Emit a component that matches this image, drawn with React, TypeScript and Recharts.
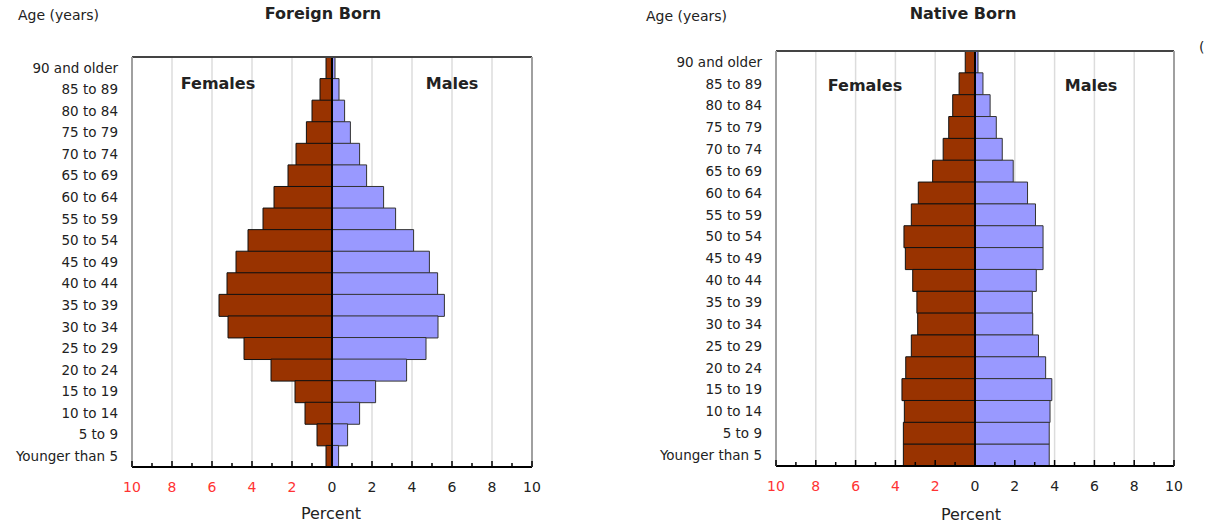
import { Bar, BarChart, CartesianGrid, ReferenceLine, XAxis, YAxis } from 'recharts'

const ages = [
  '90 and older', '85 to 89', '80 to 84', '75 to 79', '70 to 74', '65 to 69', '60 to 64',
  '55 to 59', '50 to 54', '45 to 49', '40 to 44', '35 to 39', '30 to 34', '25 to 29',
  '20 to 24', '15 to 19', '10 to 14', '5 to 9', 'Younger than 5',
]

// percent of population, oldest group first
const foreignFemales = [0.3, 0.6, 1.0, 1.28, 1.8, 2.2, 2.9, 3.45, 4.2, 4.8, 5.25, 5.65, 5.2, 4.4, 3.05, 1.85, 1.35, 0.75, 0.3]
const foreignMales = [0.15, 0.35, 0.63, 0.92, 1.38, 1.73, 2.58, 3.18, 4.08, 4.87, 5.28, 5.62, 5.3, 4.7, 3.73, 2.18, 1.38, 0.78, 0.33]
const nativeFemales = [0.49, 0.8, 1.12, 1.32, 1.6, 2.13, 2.85, 3.2, 3.57, 3.5, 3.13, 2.92, 2.88, 3.2, 3.48, 3.67, 3.55, 3.6, 3.6]
const nativeMales = [0.15, 0.4, 0.76, 1.07, 1.37, 1.92, 2.64, 3.04, 3.42, 3.42, 3.08, 2.88, 2.9, 3.19, 3.55, 3.86, 3.77, 3.73, 3.73]

const xTicks = [-10, -9, -8, -7, -6, -5, -4, -3, -2, -1, 0, 1, 2, 3, 4, 5, 6, 7, 8, 9, 10]
const gridValues = [-8, -6, -4, -2, 2, 4, 6, 8]

const FONT = '"DejaVu Sans", Verdana, sans-serif'
const FEMALE = '#993300'
const MALE = '#9999ff'
const RED = '#ff3333'

function BottomTick(props: any) {
  const { x, y, payload } = props
  const v = payload.value as number
  const major = v % 2 === 0
  return (
    <g>
      <line x1={x} x2={x} y1={y} y2={y - (major ? 6 : 4)} stroke="#000" strokeWidth={1.5} />
      {major && (
        <text x={x} y={y + 25} textAnchor="middle" fontSize={14} fontFamily={FONT} fill={v < 0 ? RED : '#222'}>
          {Math.abs(v)}
        </text>
      )}
    </g>
  )
}

function TopTick(props: any) {
  const { x, y, payload } = props
  const major = (payload.value as number) % 2 === 0
  return <line x1={x} x2={x} y1={y} y2={y + (major ? 6 : 4)} stroke="#333" strokeWidth={1.5} />
}

type PyramidProps = {
  females: number[]
  males: number[]
  width: number
  margin: { top: number; right: number; bottom: number; left: number }
  labelWidth: number
}

function Pyramid({ females, males, width, margin, labelWidth }: PyramidProps) {
  const data = ages.map((age, i) => ({ age, female: -females[i], male: males[i] }))
  return (
    <BarChart
      width={width}
      height={527}
      data={data}
      layout="vertical"
      stackOffset="sign"
      barCategoryGap={0}
      margin={margin}
    >
      <CartesianGrid horizontal={false} verticalValues={gridValues} stroke="#dcdcdc" strokeWidth={1.5} />
      <XAxis
        type="number"
        domain={[-10, 10]}
        ticks={xTicks}
        interval={0}
        height={40}
        tickSize={0}
        tickMargin={0}
        tick={<BottomTick />}
        axisLine={{ stroke: '#000', strokeWidth: 2 }}
        tickLine={false}
      />
      <XAxis
        xAxisId="top"
        orientation="top"
        type="number"
        domain={[-10, 10]}
        ticks={xTicks}
        interval={0}
        height={1}
        tickSize={0}
        tickMargin={0}
        tick={<TopTick />}
        axisLine={{ stroke: '#444', strokeWidth: 2 }}
        tickLine={false}
      />
      <YAxis
        type="category"
        dataKey="age"
        width={labelWidth}
        tickSize={0}
        tickMargin={14}
        tickLine={false}
        interval={0}
        axisLine={{ stroke: '#a0a0a0', strokeWidth: 2 }}
        tick={{ fontSize: 13.5, fill: '#222', fontFamily: FONT }}
      />
      <YAxis
        yAxisId="right"
        orientation="right"
        type="category"
        dataKey="age"
        width={1}
        tick={false}
        tickLine={false}
        axisLine={{ stroke: '#a0a0a0', strokeWidth: 2 }}
      />
      <Bar dataKey="female" stackId="a" fill={FEMALE} stroke="#111" strokeWidth={1} isAnimationActive={false} />
      <Bar dataKey="male" stackId="a" fill={MALE} stroke="#333" strokeWidth={1} isAnimationActive={false} />
      <ReferenceLine x={0} stroke="#000" strokeWidth={2} />
    </BarChart>
  )
}

const text = (
  content: string,
  x: number,
  y: number,
  size: number,
  bold = false,
  align: 'left' | 'center' = 'center',
) => (
  <div
    style={{
      position: 'absolute',
      left: x,
      top: y - size * 0.6,
      transform: align === 'center' ? 'translateX(-50%)' : undefined,
      fontSize: size,
      fontWeight: bold ? 'bold' : 'normal',
      color: '#222',
      whiteSpace: 'nowrap',
      lineHeight: 1.2,
    }}
  >
    {content}
  </div>
)

export default function App() {
  return (
    <div
      style={{
        position: 'fixed',
        left: 0,
        top: 0,
        width: 1205,
        height: 527,
        background: '#fff',
        fontFamily: FONT,
        overflow: 'hidden',
      }}
    >
      <div style={{ position: 'absolute', left: 0, top: 0 }}>
        <Pyramid
          females={foreignFemales}
          males={foreignMales}
          width={560}
          margin={{ top: 56, right: 27, bottom: 20, left: 8 }}
          labelWidth={124}
        />
      </div>
      <div style={{ position: 'absolute', left: 600, top: 0 }}>
        <Pyramid
          females={nativeFemales}
          males={nativeMales}
          width={600}
          margin={{ top: 50, right: 25, bottom: 21, left: 8 }}
          labelWidth={168}
        />
      </div>
      {text('Age (years)', 18, 15, 14, false, 'left')}
      {text('Foreign Born', 323, 14, 16, true)}
      {text('Females', 218, 84, 16, true)}
      {text('Males', 452, 84, 16, true)}
      {text('Percent', 331, 514, 16)}
      {text('Age (years)', 646, 16, 14, false, 'left')}
      {text('Native Born', 963, 14, 16, true)}
      {text('Females', 865, 86, 16, true)}
      {text('Males', 1091, 86, 16, true)}
      {text('Percent', 971, 515, 16)}
      {text('(', 1199, 47, 14, false, 'left')}
    </div>
  )
}
